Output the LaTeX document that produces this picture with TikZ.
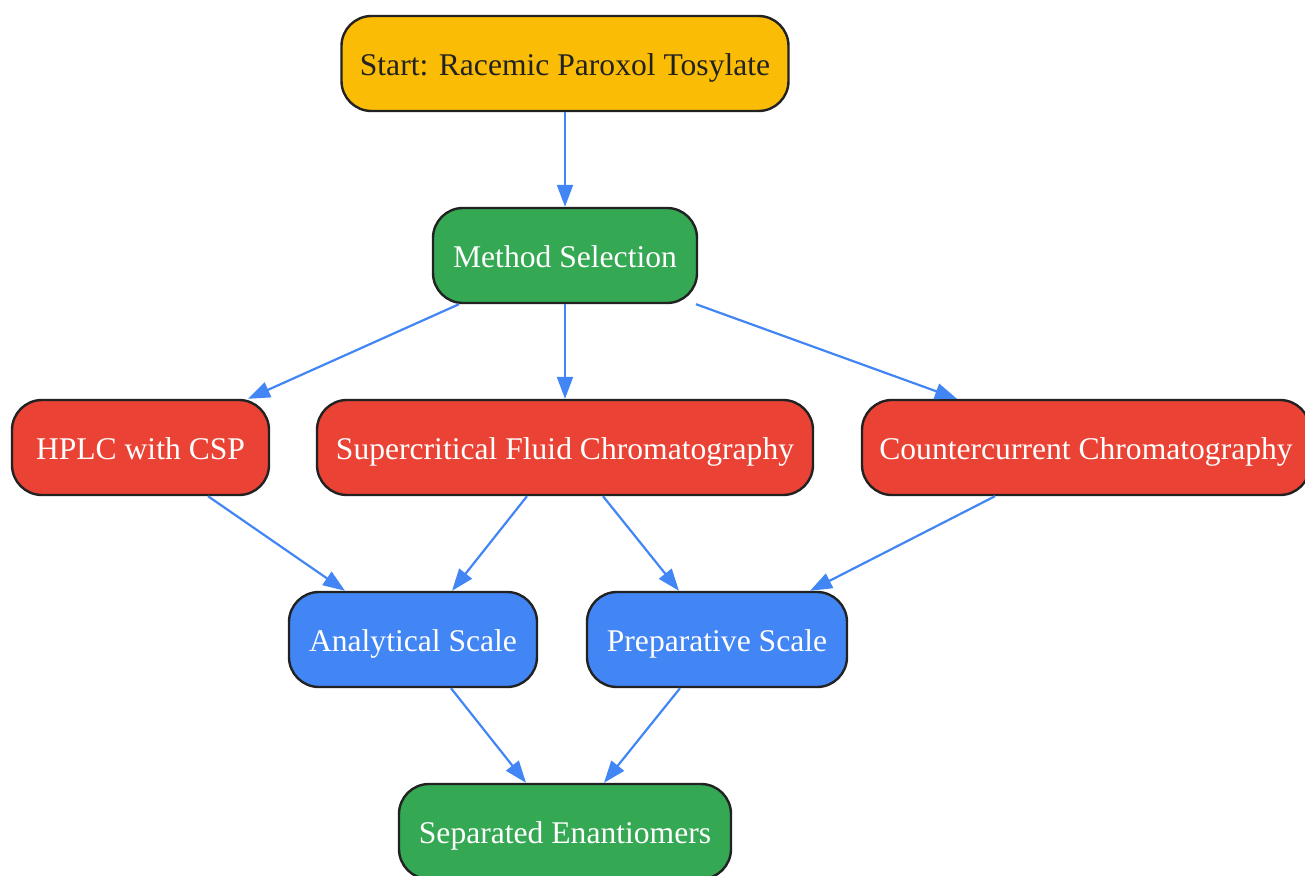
\documentclass[tikz,border=0pt]{standalone}
\usepackage{fontspec}
\setmainfont{Liberation Serif}
\usetikzlibrary{arrows.meta}
\definecolor{cyellow}{HTML}{FBBC05}
\definecolor{cgreen}{HTML}{34A853}
\definecolor{cred}{HTML}{EA4335}
\definecolor{cblue}{HTML}{4285F4}
\definecolor{cborder}{HTML}{222222}
\tikzset{
  box/.style={draw=cborder, line width=2.4pt, rounded corners=30pt, minimum height=95pt,
    inner sep=0pt, text height=28pt, text depth=5pt, align=center,
    font=\fontsize{31.6}{38}\selectfont, text=white},
  ybox/.style={box, fill=cyellow, text=cborder},
  gbox/.style={box, fill=cgreen},
  rbox/.style={box, fill=cred},
  bbox/.style={box, fill=cblue},
  conn/.style={draw=cblue, line width=2.2pt, -{Triangle[length=22pt,width=16pt]}},
}
\begin{document}
\begin{tikzpicture}[x=1pt,y=-1pt]
\useasboundingbox (0,0) rectangle (1305,875);
\node[ybox, minimum width=447pt] (start) at (565,63.5) {Start: Racemic Paroxol Tosylate};
\node[gbox, minimum width=264pt] (meth) at (565,255.5) {Method Selection};
\node[rbox, minimum width=257pt] (hplc) at (140.5,447.5) {HPLC with CSP};
\node[rbox, minimum width=448pt] (ccc) at (1086,447.5) {Countercurrent Chromatography};
\node[rbox, minimum width=496pt] (sfc) at (565,447.5) {Supercritical Fluid Chromatography};
\node[bbox, minimum width=248pt] (ana) at (413,639.5) {Analytical Scale};
\node[bbox, minimum width=260pt] (prep) at (717,639.5) {Preparative Scale};
\node[gbox, minimum width=332pt] (sep) at (565,831.5) {Separated Enantiomers};

\draw[conn] (start.south) -- (meth.north);
\draw[conn] ([xshift=-106pt]meth.south) -- ([xshift=107.5pt]hplc.north);
\draw[conn] (meth.south) -- (sfc.north);
\draw[conn] ([xshift=131pt]meth.south) -- ([xshift=-129pt]ccc.north);
\draw[conn] ([xshift=67.5pt]hplc.south) -- ([xshift=-68pt]ana.north);
\draw[conn] ([xshift=-38pt]sfc.south) -- ([xshift=39pt]ana.north);
\draw[conn] ([xshift=38pt]sfc.south) -- ([xshift=-38pt]prep.north);
\draw[conn] ([xshift=-91pt]ccc.south) -- ([xshift=93pt]prep.north);
\draw[conn] ([xshift=38pt]ana.south) -- ([xshift=-39pt]sep.north);
\draw[conn] ([xshift=-37pt]prep.south) -- ([xshift=39pt]sep.north);
\end{tikzpicture}
\end{document}
